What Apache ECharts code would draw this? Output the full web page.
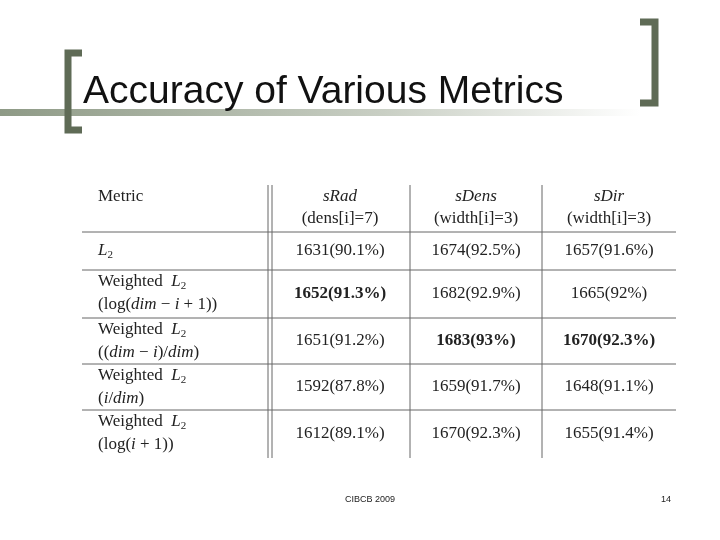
<!DOCTYPE html>
<html><head><meta charset="utf-8">
<script src="https://cdn.jsdelivr.net/npm/echarts@6/dist/echarts.min.js"></script>
<style>html,body{margin:0;padding:0;background:#fff}#c{width:720px;height:540px}</style>
</head><body><div id="c"></div>
<script>
const title = 'Accuracy of Various Metrics';
const columns = ['sRad', 'sDens', 'sDir'];
const columnParams = ['(dens[i]=7)', '(width[i]=3)', '(width[i]=3)'];
const rowLabels = [
  ['{i|L}{s|2}'],
  ['Weighted  {i|L}{s|2}', '(log({i|dim} − {i|i} + 1))'],
  ['Weighted  {i|L}{s|2}', '(({i|dim} − {i|i})/{i|dim})'],
  ['Weighted  {i|L}{s|2}', '({i|i}/{i|dim})'],
  ['Weighted  {i|L}{s|2}', '(log({i|i} + 1))']
];
const sRad  = ['1631(90.1%)', '1652(91.3%)', '1651(91.2%)', '1592(87.8%)', '1612(89.1%)'];
const sDens = ['1674(92.5%)', '1682(92.9%)', '1683(93%)', '1659(91.7%)', '1670(92.3%)'];
const sDir  = ['1657(91.6%)', '1665(92%)', '1670(92.3%)', '1648(91.1%)', '1655(91.4%)'];
const best = [[2,1],[3,2],[3,3]]; // [row, col] bold
const footer = 'CIBCB 2009';
const pageNo = '14';

// layout (grid units)
const colEdges = [0, 188, 328, 460, 594];
const rowEdges = [0, 47, 85, 133, 179, 225, 273];

const values = [sRad, sDens, sDir];
const data = [];
data.push([0, 0, 'Metric']);
for (let c = 0; c < 3; c++) data.push([c + 1, 0, columns[c]]);
for (let r = 0; r < 5; r++) {
  data.push([0, r + 1, '']);
  for (let c = 0; c < 3; c++) data.push([c + 1, r + 1, values[c][r]]);
}
const serif = '"Liberation Serif", "DejaVu Serif", serif';
const rich = {
  i: {fontStyle: 'italic', fontFamily: serif, fontSize: 17, color: '#222'},
  s: {fontFamily: serif, fontSize: 11, color: '#222', padding: [8, 0, 0, 0]}
};
function renderItem(params, api) {
  const c = api.value(0), r = api.value(1);
  const p0 = api.coord([colEdges[c], rowEdges[r]]);
  const p1 = api.coord([colEdges[c + 1], rowEdges[r + 1]]);
  const x0 = p0[0], y0 = p0[1], x1 = p1[0], y1 = p1[1];
  const children = [];
  const ls = {stroke: '#666', lineWidth: 1};
  if (r < rowEdges.length - 2) children.push({type: 'line', shape: {x1: x0, y1: y1, x2: x1, y2: y1}, style: ls});
  if (c === 0) {
    children.push({type: 'line', shape: {x1: x1 - 2, y1: y0, x2: x1 - 2, y2: y1}, style: ls});
    children.push({type: 'line', shape: {x1: x1 + 2, y1: y0, x2: x1 + 2, y2: y1}, style: ls});
  } else if (c < 3) {
    children.push({type: 'line', shape: {x1: x1, y1: y0, x2: x1, y2: y1}, style: ls});
  }
  const base = {fontFamily: serif, fontSize: 17, fill: '#222'};
  if (r === 0) {
    if (c === 0) {
      children.push({type: 'text', style: Object.assign({}, base, {x: x0 + 16, y: y0 + 12, text: 'Metric', verticalAlign: 'middle'})});
    } else {
      const cx = (x0 + x1) / 2;
      children.push({type: 'text', style: Object.assign({}, base, {x: cx, y: y0 + 12, text: columns[c - 1], fontStyle: 'italic', align: 'center', verticalAlign: 'middle'})});
      children.push({type: 'text', style: Object.assign({}, base, {x: cx, y: y0 + 34, text: columnParams[c - 1], align: 'center', verticalAlign: 'middle'})});
    }
  } else if (c === 0) {
    const lines = rowLabels[r - 1];
    const ys = lines.length === 1 ? [(y0 + y1) / 2] : [y0 + 12, y0 + 35];
    lines.forEach((t, k) => children.push({type: 'text', style: Object.assign({}, base, {x: x0 + 16, y: ys[k], text: t, rich: rich, verticalAlign: 'middle'})}));
  } else {
    const bold = best.some(b => b[0] === r && b[1] === c);
    children.push({type: 'text', style: Object.assign({}, base, {x: (x0 + x1) / 2, y: (y0 + y1) / 2, text: values[c - 1][r - 1], align: 'center', verticalAlign: 'middle', fontWeight: bold ? 'bold' : 'normal'})});
  }
  return {type: 'group', children: children};
}
const chart = echarts.init(document.getElementById('c'));
chart.setOption({
  backgroundColor: '#fff',
  animation: false,
  title: {text: title, left: 78, top: 68, textStyle: {fontFamily: '"Liberation Sans", Arial, sans-serif', fontSize: 39, fontWeight: 'normal', color: '#111'}},
  grid: {left: 82, top: 185, width: 594, height: 273},
  xAxis: {type: 'value', min: 0, max: 594, show: false},
  yAxis: {type: 'value', min: 0, max: 273, inverse: true, show: false},
  graphic: [
    {type: 'rect', shape: {x: 0, y: 109, width: 640, height: 7}, style: {fill: new echarts.graphic.LinearGradient(0, 0, 1, 0, [{offset: 0, color: '#8e9a86'}, {offset: 0.6, color: '#c9cfc4'}, {offset: 1, color: '#ffffff'}])}},
    {type: 'polyline', shape: {points: [[82, 53], [68, 53], [68, 130], [82, 130]]}, style: {stroke: '#5f6b56', lineWidth: 7, fill: null}},
    {type: 'polyline', shape: {points: [[640, 22], [655, 22], [655, 103], [640, 103]]}, style: {stroke: '#5f6b56', lineWidth: 7, fill: null}},
    {type: 'text', style: {x: 370, y: 500, text: footer, fontSize: 9, fontFamily: 'Arial, sans-serif', fill: '#222', align: 'center', verticalAlign: 'middle'}},
    {type: 'text', style: {x: 666, y: 500, text: pageNo, fontSize: 9, fontFamily: 'Arial, sans-serif', fill: '#222', align: 'center', verticalAlign: 'middle'}}
  ],
  series: [{type: 'custom', renderItem: renderItem, data: data, clip: false}]
});
</script></body></html>
